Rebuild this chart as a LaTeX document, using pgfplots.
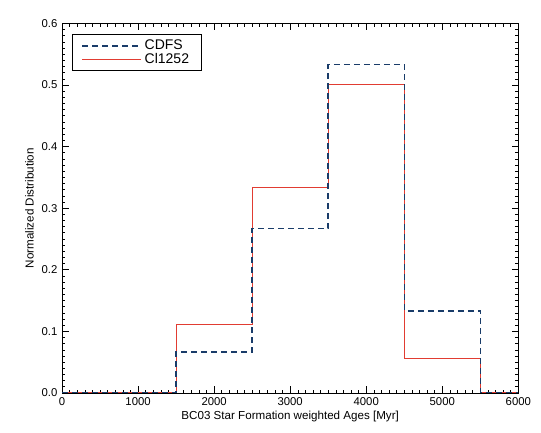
\documentclass[border=0pt]{standalone}
\usepackage{pgfplots}
\pgfplotsset{compat=1.18}
\usepackage{fontspec}
\setmainfont{Liberation Sans}
\definecolor{cdfsblue}{RGB}{25,60,105}
\definecolor{clred}{RGB}{225,60,50}
\begin{document}
\begin{tikzpicture}
\begin{axis}[
    scale only axis,
    width=342pt, height=277pt,
    xmin=0, xmax=6000, ymin=0, ymax=0.6,
    xtick={0,1000,...,6000},
    ytick={0,0.1,...,0.6},
    minor tick num=9,
    tick align=inside,
    major tick length=5pt,
    minor tick length=2.5pt,
    tick style={black, line width=0.4pt},
    axis line style={black, line width=0.5pt},
    xticklabel style={/pgf/number format/1000 sep={}},
    yticklabel style={/pgf/number format/.cd, fixed, fixed zerofill, precision=1},
    /pgf/number format/assume math mode=true,
    tick label style={font=\fontsize{8.5}{10}\selectfont},
    label style={font=\fontsize{8.7}{10}\selectfont},
    xlabel={BC03 Star Formation weighted Ages [Myr]},
    ylabel={Normalized Distribution},
    xlabel style={yshift=3pt},
    ylabel style={yshift=-1pt},
    legend style={at={(0.022,0.97)}, anchor=north west, draw=black,
        font=\fontsize{10.5}{12}\selectfont, row sep=-3pt,
        inner xsep=7pt, inner ysep=2pt},
    legend cell align=left,
    reverse legend,
    legend image code/.code={\draw[#1] (0cm,0cm) -- (1.55cm,0cm);},
]
    \addplot[const plot, clred, line width=0.8pt]
        coordinates {(0,0) (1500,0.1111) (2500,0.3333) (3500,0.5000)
                     (4500,0.0556) (5500,0) (6000,0)};
    \addlegendentry{Cl1252\hspace{6pt}}
    \addplot[const plot, cdfsblue, line width=1.1pt, dash pattern=on 4.5pt off 3pt]
        coordinates {(0,0) (1500,0.0667) (2500,0.2667) (3500,0.5333)
                     (4500,0.1333) (5500,0) (6000,0)};
    \addlegendentry{CDFS}
\end{axis}
\path ([shift={(-46.5pt,-30pt)}]current axis.south west)
    rectangle ([shift={(17pt,17.5pt)}]current axis.north east);
\end{tikzpicture}
\end{document}
